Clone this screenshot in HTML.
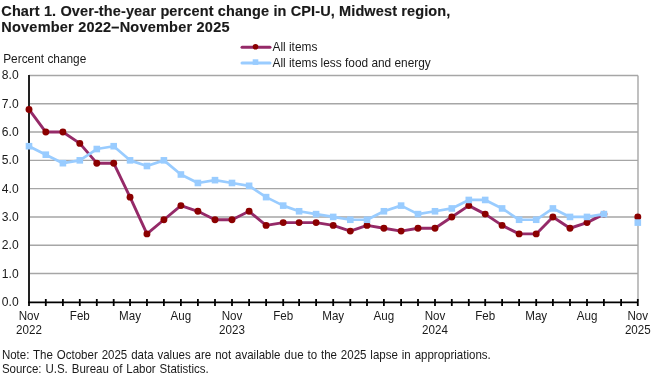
<!DOCTYPE html>
<html><head><meta charset="utf-8"><style>
html,body{margin:0;padding:0;background:#fff;}
svg{display:block;will-change:transform;}
text{font-family:"Liberation Sans",sans-serif;fill:#1a1a1a;}
</style></head><body>
<svg width="660" height="376" viewBox="0 0 660 376">
<rect width="660" height="376" fill="#fff"/>
<line x1="29.0" y1="273.51" x2="638.0" y2="273.51" stroke="#a6a6a6" stroke-width="1.4"/>
<line x1="29.0" y1="245.22" x2="638.0" y2="245.22" stroke="#a6a6a6" stroke-width="1.4"/>
<line x1="29.0" y1="216.93" x2="638.0" y2="216.93" stroke="#a6a6a6" stroke-width="1.4"/>
<line x1="29.0" y1="188.64" x2="638.0" y2="188.64" stroke="#a6a6a6" stroke-width="1.4"/>
<line x1="29.0" y1="160.35" x2="638.0" y2="160.35" stroke="#a6a6a6" stroke-width="1.4"/>
<line x1="29.0" y1="132.06" x2="638.0" y2="132.06" stroke="#a6a6a6" stroke-width="1.4"/>
<line x1="29.0" y1="103.77" x2="638.0" y2="103.77" stroke="#a6a6a6" stroke-width="1.4"/>
<line x1="29.0" y1="75.48" x2="638.0" y2="75.48" stroke="#a6a6a6" stroke-width="1.4"/>
<line x1="638.0" y1="75.48" x2="638.0" y2="301.80" stroke="#a6a6a6" stroke-width="1.4"/>
<text transform="translate(18.70,305.80) scale(0.94,1)" font-size="12.9" text-anchor="end">0.0</text>
<text transform="translate(18.70,277.51) scale(0.94,1)" font-size="12.9" text-anchor="end">1.0</text>
<text transform="translate(18.70,249.22) scale(0.94,1)" font-size="12.9" text-anchor="end">2.0</text>
<text transform="translate(18.70,220.93) scale(0.94,1)" font-size="12.9" text-anchor="end">3.0</text>
<text transform="translate(18.70,192.64) scale(0.94,1)" font-size="12.9" text-anchor="end">4.0</text>
<text transform="translate(18.70,164.35) scale(0.94,1)" font-size="12.9" text-anchor="end">5.0</text>
<text transform="translate(18.70,136.06) scale(0.94,1)" font-size="12.9" text-anchor="end">6.0</text>
<text transform="translate(18.70,107.77) scale(0.94,1)" font-size="12.9" text-anchor="end">7.0</text>
<text transform="translate(18.70,79.48) scale(0.94,1)" font-size="12.9" text-anchor="end">8.0</text>
<line x1="29.00" y1="299" x2="29.00" y2="306" stroke="#000" stroke-width="1.8"/>
<line x1="45.80" y1="299" x2="45.80" y2="306" stroke="#000" stroke-width="1.8"/>
<line x1="62.90" y1="299" x2="62.90" y2="306" stroke="#000" stroke-width="1.8"/>
<line x1="79.80" y1="299" x2="79.80" y2="306" stroke="#000" stroke-width="1.8"/>
<line x1="96.80" y1="299" x2="96.80" y2="306" stroke="#000" stroke-width="1.8"/>
<line x1="113.70" y1="299" x2="113.70" y2="306" stroke="#000" stroke-width="1.8"/>
<line x1="130.05" y1="299" x2="130.05" y2="306" stroke="#000" stroke-width="1.8"/>
<line x1="146.95" y1="299" x2="146.95" y2="306" stroke="#000" stroke-width="1.8"/>
<line x1="163.90" y1="299" x2="163.90" y2="306" stroke="#000" stroke-width="1.8"/>
<line x1="180.90" y1="299" x2="180.90" y2="306" stroke="#000" stroke-width="1.8"/>
<line x1="197.90" y1="299" x2="197.90" y2="306" stroke="#000" stroke-width="1.8"/>
<line x1="215.00" y1="299" x2="215.00" y2="306" stroke="#000" stroke-width="1.8"/>
<line x1="232.00" y1="299" x2="232.00" y2="306" stroke="#000" stroke-width="1.8"/>
<line x1="249.10" y1="299" x2="249.10" y2="306" stroke="#000" stroke-width="1.8"/>
<line x1="266.10" y1="299" x2="266.10" y2="306" stroke="#000" stroke-width="1.8"/>
<line x1="283.20" y1="299" x2="283.20" y2="306" stroke="#000" stroke-width="1.8"/>
<line x1="299.10" y1="299" x2="299.10" y2="306" stroke="#000" stroke-width="1.8"/>
<line x1="316.10" y1="299" x2="316.10" y2="306" stroke="#000" stroke-width="1.8"/>
<line x1="333.20" y1="299" x2="333.20" y2="306" stroke="#000" stroke-width="1.8"/>
<line x1="350.30" y1="299" x2="350.30" y2="306" stroke="#000" stroke-width="1.8"/>
<line x1="367.00" y1="299" x2="367.00" y2="306" stroke="#000" stroke-width="1.8"/>
<line x1="383.90" y1="299" x2="383.90" y2="306" stroke="#000" stroke-width="1.8"/>
<line x1="401.10" y1="299" x2="401.10" y2="306" stroke="#000" stroke-width="1.8"/>
<line x1="418.00" y1="299" x2="418.00" y2="306" stroke="#000" stroke-width="1.8"/>
<line x1="435.00" y1="299" x2="435.00" y2="306" stroke="#000" stroke-width="1.8"/>
<line x1="451.80" y1="299" x2="451.80" y2="306" stroke="#000" stroke-width="1.8"/>
<line x1="468.80" y1="299" x2="468.80" y2="306" stroke="#000" stroke-width="1.8"/>
<line x1="485.20" y1="299" x2="485.20" y2="306" stroke="#000" stroke-width="1.8"/>
<line x1="502.10" y1="299" x2="502.10" y2="306" stroke="#000" stroke-width="1.8"/>
<line x1="519.10" y1="299" x2="519.10" y2="306" stroke="#000" stroke-width="1.8"/>
<line x1="536.20" y1="299" x2="536.20" y2="306" stroke="#000" stroke-width="1.8"/>
<line x1="552.90" y1="299" x2="552.90" y2="306" stroke="#000" stroke-width="1.8"/>
<line x1="570.00" y1="299" x2="570.00" y2="306" stroke="#000" stroke-width="1.8"/>
<line x1="587.00" y1="299" x2="587.00" y2="306" stroke="#000" stroke-width="1.8"/>
<line x1="603.90" y1="299" x2="603.90" y2="306" stroke="#000" stroke-width="1.8"/>
<line x1="621.10" y1="299" x2="621.10" y2="306" stroke="#000" stroke-width="1.8"/>
<line x1="637.80" y1="299" x2="637.80" y2="306" stroke="#000" stroke-width="1.8"/>
<line x1="29.0" y1="74.88" x2="29.0" y2="306" stroke="#222" stroke-width="2"/>
<line x1="28.0" y1="302.45" x2="638.0" y2="302.45" stroke="#000" stroke-width="1.8"/>
<text transform="translate(29.00,320.20) scale(0.9,1)" font-size="12.9" text-anchor="middle">Nov</text>
<text transform="translate(29.00,333.50) scale(0.9,1)" font-size="12.9" text-anchor="middle">2022</text>
<text transform="translate(79.80,320.20) scale(0.9,1)" font-size="12.9" text-anchor="middle">Feb</text>
<text transform="translate(130.05,320.20) scale(0.9,1)" font-size="12.9" text-anchor="middle">May</text>
<text transform="translate(180.90,320.20) scale(0.9,1)" font-size="12.9" text-anchor="middle">Aug</text>
<text transform="translate(232.00,320.20) scale(0.9,1)" font-size="12.9" text-anchor="middle">Nov</text>
<text transform="translate(232.00,333.50) scale(0.9,1)" font-size="12.9" text-anchor="middle">2023</text>
<text transform="translate(283.20,320.20) scale(0.9,1)" font-size="12.9" text-anchor="middle">Feb</text>
<text transform="translate(333.20,320.20) scale(0.9,1)" font-size="12.9" text-anchor="middle">May</text>
<text transform="translate(383.90,320.20) scale(0.9,1)" font-size="12.9" text-anchor="middle">Aug</text>
<text transform="translate(435.00,320.20) scale(0.9,1)" font-size="12.9" text-anchor="middle">Nov</text>
<text transform="translate(435.00,333.50) scale(0.9,1)" font-size="12.9" text-anchor="middle">2024</text>
<text transform="translate(485.20,320.20) scale(0.9,1)" font-size="12.9" text-anchor="middle">Feb</text>
<text transform="translate(536.20,320.20) scale(0.9,1)" font-size="12.9" text-anchor="middle">May</text>
<text transform="translate(587.00,320.20) scale(0.9,1)" font-size="12.9" text-anchor="middle">Aug</text>
<text transform="translate(637.80,320.20) scale(0.9,1)" font-size="12.9" text-anchor="middle">Nov</text>
<text transform="translate(637.80,333.50) scale(0.9,1)" font-size="12.9" text-anchor="middle">2025</text>
<polyline points="29.00,109.43 45.80,132.06 62.90,132.06 79.80,143.38 96.80,163.18 113.70,163.18 130.05,197.13 146.95,233.90 163.90,219.76 180.90,205.61 197.90,211.27 215.00,219.76 232.00,219.76 249.10,211.27 266.10,225.42 283.20,222.59 299.10,222.59 316.10,222.59 333.20,225.42 350.30,231.08 367.00,225.42 383.90,228.25 401.10,231.08 418.00,228.25 435.00,228.25 451.80,216.93 468.80,205.61 485.20,214.10 502.10,225.42 519.10,233.90 536.20,233.90 552.90,216.93 570.00,228.25 587.00,222.59 603.90,214.10" fill="none" stroke="#952a68" stroke-width="2.9" stroke-linejoin="round"/>
<circle cx="29.00" cy="109.43" r="3.45" fill="#8b0000"/>
<circle cx="45.80" cy="132.06" r="3.45" fill="#8b0000"/>
<circle cx="62.90" cy="132.06" r="3.45" fill="#8b0000"/>
<circle cx="79.80" cy="143.38" r="3.45" fill="#8b0000"/>
<circle cx="96.80" cy="163.18" r="3.45" fill="#8b0000"/>
<circle cx="113.70" cy="163.18" r="3.45" fill="#8b0000"/>
<circle cx="130.05" cy="197.13" r="3.45" fill="#8b0000"/>
<circle cx="146.95" cy="233.90" r="3.45" fill="#8b0000"/>
<circle cx="163.90" cy="219.76" r="3.45" fill="#8b0000"/>
<circle cx="180.90" cy="205.61" r="3.45" fill="#8b0000"/>
<circle cx="197.90" cy="211.27" r="3.45" fill="#8b0000"/>
<circle cx="215.00" cy="219.76" r="3.45" fill="#8b0000"/>
<circle cx="232.00" cy="219.76" r="3.45" fill="#8b0000"/>
<circle cx="249.10" cy="211.27" r="3.45" fill="#8b0000"/>
<circle cx="266.10" cy="225.42" r="3.45" fill="#8b0000"/>
<circle cx="283.20" cy="222.59" r="3.45" fill="#8b0000"/>
<circle cx="299.10" cy="222.59" r="3.45" fill="#8b0000"/>
<circle cx="316.10" cy="222.59" r="3.45" fill="#8b0000"/>
<circle cx="333.20" cy="225.42" r="3.45" fill="#8b0000"/>
<circle cx="350.30" cy="231.08" r="3.45" fill="#8b0000"/>
<circle cx="367.00" cy="225.42" r="3.45" fill="#8b0000"/>
<circle cx="383.90" cy="228.25" r="3.45" fill="#8b0000"/>
<circle cx="401.10" cy="231.08" r="3.45" fill="#8b0000"/>
<circle cx="418.00" cy="228.25" r="3.45" fill="#8b0000"/>
<circle cx="435.00" cy="228.25" r="3.45" fill="#8b0000"/>
<circle cx="451.80" cy="216.93" r="3.45" fill="#8b0000"/>
<circle cx="468.80" cy="205.61" r="3.45" fill="#8b0000"/>
<circle cx="485.20" cy="214.10" r="3.45" fill="#8b0000"/>
<circle cx="502.10" cy="225.42" r="3.45" fill="#8b0000"/>
<circle cx="519.10" cy="233.90" r="3.45" fill="#8b0000"/>
<circle cx="536.20" cy="233.90" r="3.45" fill="#8b0000"/>
<circle cx="552.90" cy="216.93" r="3.45" fill="#8b0000"/>
<circle cx="570.00" cy="228.25" r="3.45" fill="#8b0000"/>
<circle cx="587.00" cy="222.59" r="3.45" fill="#8b0000"/>
<circle cx="603.90" cy="214.10" r="3.45" fill="#8b0000"/>
<circle cx="637.80" cy="216.93" r="3.45" fill="#8b0000"/>
<polyline points="29.00,146.21 45.80,154.69 62.90,163.18 79.80,160.35 96.80,149.03 113.70,146.21 130.05,160.35 146.95,166.01 163.90,160.35 180.90,174.50 197.90,182.98 215.00,180.15 232.00,182.98 249.10,185.81 266.10,197.13 283.20,205.61 299.10,211.27 316.10,214.10 333.20,216.93 350.30,219.76 367.00,219.76 383.90,211.27 401.10,205.61 418.00,214.10 435.00,211.27 451.80,208.44 468.80,199.96 485.20,199.96 502.10,208.44 519.10,219.76 536.20,219.76 552.90,208.44 570.00,216.93 587.00,216.93 603.90,214.10" fill="none" stroke="#99ccff" stroke-width="2.7" stroke-linejoin="round"/>
<rect x="25.70" y="142.91" width="6.6" height="6.6" fill="#99ccff"/>
<rect x="42.50" y="151.39" width="6.6" height="6.6" fill="#99ccff"/>
<rect x="59.60" y="159.88" width="6.6" height="6.6" fill="#99ccff"/>
<rect x="76.50" y="157.05" width="6.6" height="6.6" fill="#99ccff"/>
<rect x="93.50" y="145.73" width="6.6" height="6.6" fill="#99ccff"/>
<rect x="110.40" y="142.91" width="6.6" height="6.6" fill="#99ccff"/>
<rect x="126.75" y="157.05" width="6.6" height="6.6" fill="#99ccff"/>
<rect x="143.65" y="162.71" width="6.6" height="6.6" fill="#99ccff"/>
<rect x="160.60" y="157.05" width="6.6" height="6.6" fill="#99ccff"/>
<rect x="177.60" y="171.19" width="6.6" height="6.6" fill="#99ccff"/>
<rect x="194.60" y="179.68" width="6.6" height="6.6" fill="#99ccff"/>
<rect x="211.70" y="176.85" width="6.6" height="6.6" fill="#99ccff"/>
<rect x="228.70" y="179.68" width="6.6" height="6.6" fill="#99ccff"/>
<rect x="245.80" y="182.51" width="6.6" height="6.6" fill="#99ccff"/>
<rect x="262.80" y="193.83" width="6.6" height="6.6" fill="#99ccff"/>
<rect x="279.90" y="202.31" width="6.6" height="6.6" fill="#99ccff"/>
<rect x="295.80" y="207.97" width="6.6" height="6.6" fill="#99ccff"/>
<rect x="312.80" y="210.80" width="6.6" height="6.6" fill="#99ccff"/>
<rect x="329.90" y="213.63" width="6.6" height="6.6" fill="#99ccff"/>
<rect x="347.00" y="216.46" width="6.6" height="6.6" fill="#99ccff"/>
<rect x="363.70" y="216.46" width="6.6" height="6.6" fill="#99ccff"/>
<rect x="380.60" y="207.97" width="6.6" height="6.6" fill="#99ccff"/>
<rect x="397.80" y="202.31" width="6.6" height="6.6" fill="#99ccff"/>
<rect x="414.70" y="210.80" width="6.6" height="6.6" fill="#99ccff"/>
<rect x="431.70" y="207.97" width="6.6" height="6.6" fill="#99ccff"/>
<rect x="448.50" y="205.14" width="6.6" height="6.6" fill="#99ccff"/>
<rect x="465.50" y="196.66" width="6.6" height="6.6" fill="#99ccff"/>
<rect x="481.90" y="196.66" width="6.6" height="6.6" fill="#99ccff"/>
<rect x="498.80" y="205.14" width="6.6" height="6.6" fill="#99ccff"/>
<rect x="515.80" y="216.46" width="6.6" height="6.6" fill="#99ccff"/>
<rect x="532.90" y="216.46" width="6.6" height="6.6" fill="#99ccff"/>
<rect x="549.60" y="205.14" width="6.6" height="6.6" fill="#99ccff"/>
<rect x="566.70" y="213.63" width="6.6" height="6.6" fill="#99ccff"/>
<rect x="583.70" y="213.63" width="6.6" height="6.6" fill="#99ccff"/>
<rect x="600.60" y="210.80" width="6.6" height="6.6" fill="#99ccff"/>
<rect x="634.50" y="219.29" width="6.6" height="6.6" fill="#99ccff"/>
<line x1="242" y1="47.3" x2="270" y2="47.3" stroke="#952a68" stroke-width="3" stroke-linecap="round"/>
<circle cx="255.5" cy="46.7" r="2.8" fill="#8b0000"/>
<line x1="242" y1="62.9" x2="270" y2="62.9" stroke="#99ccff" stroke-width="3" stroke-linecap="round"/>
<rect x="252.7" y="59.3" width="5.6" height="5.6" fill="#99ccff"/>
<text transform="translate(272.50,50.60) scale(0.942,1)" font-size="12.6">All items</text>
<text transform="translate(272.50,66.60) scale(0.942,1)" font-size="12.6">All items less food and energy</text>
<text transform="translate(3.20,62.50) scale(0.942,1)" font-size="12.6">Percent change</text>
<text x="1.30" y="15.70" font-size="14.5" stroke="#1a1a1a" stroke-width="0.15" font-weight="bold" letter-spacing="0.12">Chart 1. Over-the-year percent change in CPI-U, Midwest region,</text>
<text x="1.30" y="32.30" font-size="14.5" stroke="#1a1a1a" stroke-width="0.15" font-weight="bold" letter-spacing="0.22">November 2022–November 2025</text>
<text transform="translate(1.90,358.80) scale(0.9,1)" font-size="12.8" word-spacing="0.8">Note: The October 2025 data values are not available due to the 2025 lapse in appropriations.</text>
<text transform="translate(1.90,372.50) scale(0.9,1)" font-size="12.8" word-spacing="0.8">Source: U.S. Bureau of Labor Statistics.</text>
</svg>
</body></html>
